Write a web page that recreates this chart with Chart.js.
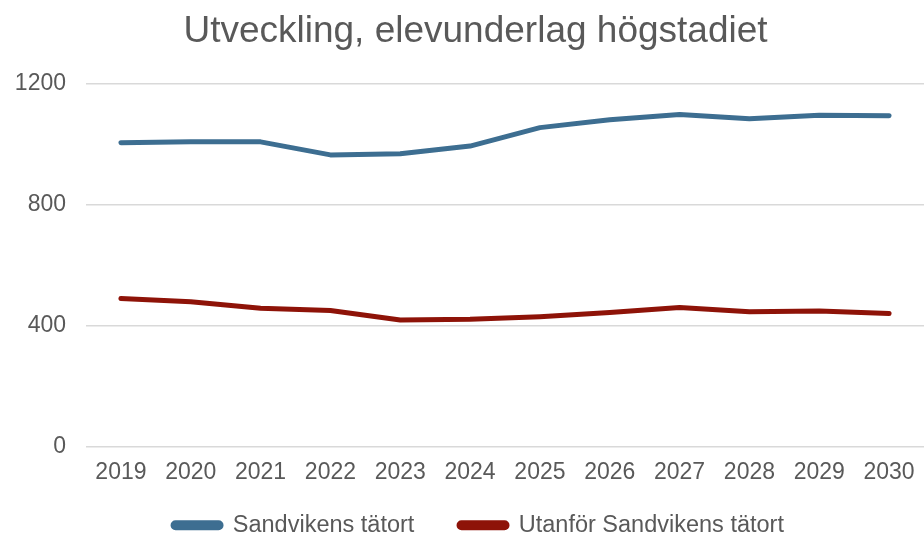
<!DOCTYPE html>
<html>
<head>
<meta charset="utf-8">
<script src="https://cdn.jsdelivr.net/npm/chart.js@4/dist/chart.umd.min.js"></script>
<style>
html,body{margin:0;padding:0;background:#fff;}
#wrap{width:924px;height:536px;position:relative;}
</style>
</head>
<body>
<div id="wrap"><canvas id="c" width="924" height="536"></canvas></div>
<script>
const years = ["2019","2020","2021","2022","2023","2024","2025","2026","2027","2028","2029","2030"];
const sandvikens = [1004,1007,1007,964,968,993,1054,1080,1097,1083,1095,1093];
const utanfor = [490,479,458,450,419,421,430,444,460,446,449,440];
const yTicks = [0,400,800,1200];
const titleText = "Utveckling, elevunderlag högstadiet";
const seriesNames = ["Sandvikens tätort","Utanför Sandvikens tätort"];

const grey = "#595959";
const fam = "Liberation Sans, Arial, sans-serif";

const shiftBoxes = {
  id: 'shiftBoxes',
  afterLayout(chart) {
    const lg = chart.legend;
    if (lg) { lg.top += 11; lg.bottom += 11; lg.left += 16.5; lg.right += 16.5; }
    const t = chart.titleBlock;
    if (t) { t.left += 13.5; t.right += 13.5; }
  }
};

new Chart(document.getElementById('c'), {
  type: 'line',
  data: {
    labels: years,
    datasets: [
      {label: seriesNames[0], data: sandvikens, borderColor: "#3D6E91", backgroundColor: "#3D6E91",
       borderWidth: 5, pointRadius: 0, tension: 0, borderCapStyle: 'round', borderJoinStyle: 'round'},
      {label: seriesNames[1], data: utanfor, borderColor: "#8E1308", backgroundColor: "#8E1308",
       borderWidth: 5, pointRadius: 0, tension: 0, borderCapStyle: 'round', borderJoinStyle: 'round'}
    ]
  },
  plugins: [shiftBoxes],
  options: {
    responsive: false,
    animation: false,
    layout: {padding: {left: 0, right: 0, top: 2, bottom: 0}},
    plugins: {
      title: {display: true, text: titleText, color: grey,
        font: {family: fam, size: 37, weight: 'normal'},
        padding: {top: 8, bottom: 29}},
      legend: {position: 'bottom',
        labels: {color: grey, font: {family: fam, size: 23.5},
          boxWidth: 48, boxHeight: 5, padding: 12, useBorderRadius: true, borderRadius: 2.5,
          generateLabels: (chart) => {
            const items = Chart.defaults.plugins.legend.labels.generateLabels(chart);
            items.forEach((it, i) => { if (i === 0) it.text = it.text + "     "; });
            return items;
          }}},
      tooltip: {enabled: false}
    },
    scales: {
      x: {
        offset: true,
        grid: {display: false},
        border: {display: false},
        ticks: {color: grey, font: {family: fam, size: 23}, padding: 4, maxRotation: 0}
      },
      y: {
        min: 0, max: 1200,
        afterBuildTicks: (axis) => { axis.ticks = yTicks.map(v => ({value: v})); },
        afterFit: (axis) => { axis.width = 86; },
        grid: {color: "#D9D9D9", lineWidth: 1.5, drawTicks: false},
        border: {display: false},
        ticks: {color: grey, font: {family: fam, size: 23}, padding: 20, callback: (v) => String(v)}
      }
    }
  }
});
</script>
</body>
</html>
